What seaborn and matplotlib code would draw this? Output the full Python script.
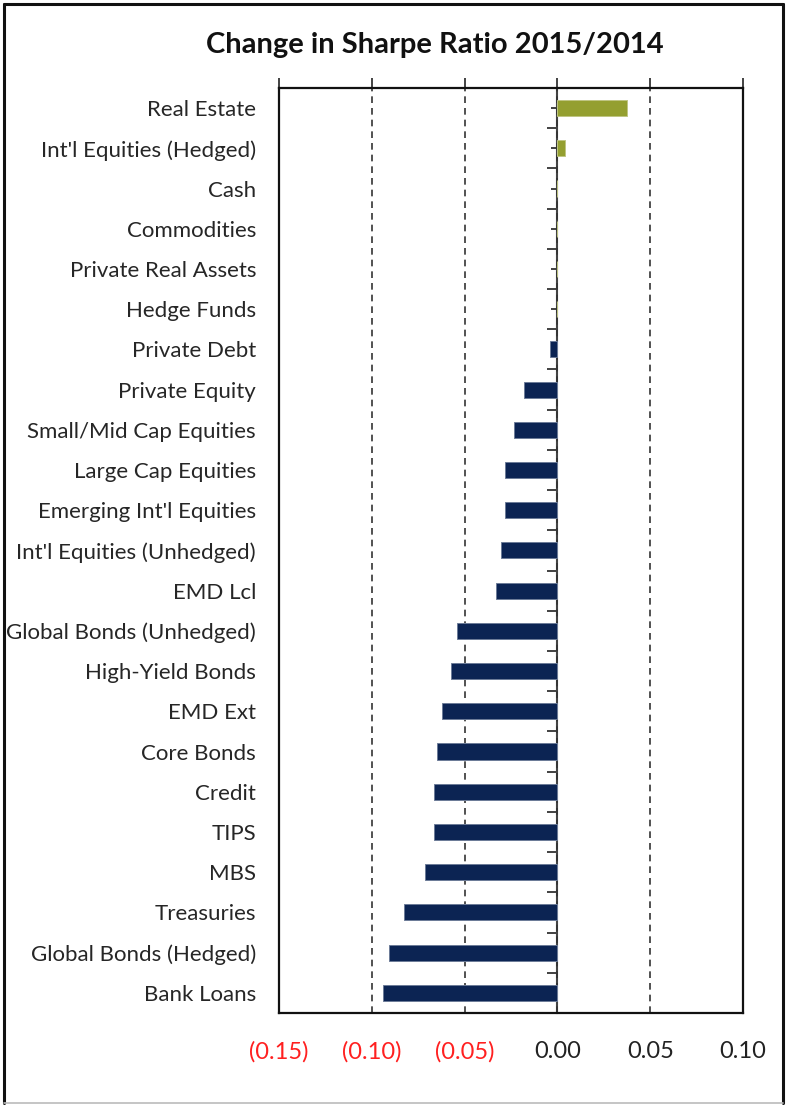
import numpy as np
import pandas as pd
import matplotlib
matplotlib.use("Agg")
import matplotlib.pyplot as plt
from matplotlib.lines import Line2D
import seaborn as sns

categories = [
    "Real Estate", "Int'l Equities (Hedged)", "Cash", "Commodities",
    "Private Real Assets", "Hedge Funds", "Private Debt", "Private Equity",
    "Small/Mid Cap Equities", "Large Cap Equities", "Emerging Int'l Equities",
    "Int'l Equities (Unhedged)", "EMD Lcl", "Global Bonds (Unhedged)",
    "High-Yield Bonds", "EMD Ext", "Core Bonds", "Credit", "TIPS", "MBS",
    "Treasuries", "Global Bonds (Hedged)", "Bank Loans",
]
sharpe_change = [
    0.0375, 0.0043, 0.0, 0.0, 0.0, 0.0, -0.0038, -0.0180,
    -0.0235, -0.0284, -0.0284, -0.0303, -0.0332, -0.0541,
    -0.0573, -0.0621, -0.0648, -0.0663, -0.0663, -0.0711,
    -0.0828, -0.0909, -0.0939,
]
x_ticks = [-0.15, -0.10, -0.05, 0.00, 0.05, 0.10]
x_tick_labels = ["(0.15)", "(0.10)", "(0.05)", "0.00", "0.05", "0.10"]

df = pd.DataFrame({"asset": categories, "change": sharpe_change})
df["sign"] = np.where(df["change"] >= 0, "up", "down")

POS_COLOR = "#A3B11E"
NEG_COLOR = "#00205F"

sns.set_style("white")
plt.rcParams["font.family"] = ["Lato", "DejaVu Sans"]

fig = plt.figure(figsize=(7.88, 11.05), dpi=100)
ax = fig.add_axes([0.354, 0.0833, 0.589, 0.8371])

sns.barplot(
    data=df, y="asset", x="change", hue="sign",
    palette={"up": POS_COLOR, "down": NEG_COLOR},
    order=categories, orient="h", width=0.4, dodge=False,
    legend=False, ax=ax, linewidth=0.7,
)
# thin lighter outline around each bar
for bar in ax.patches:
    fc = bar.get_facecolor()
    bar.set_edgecolor(tuple(min(1, c * 0.6 + 0.4) for c in fc[:3]))

ax.set_xlim(-0.15, 0.10)
ax.set_ylim(len(categories) - 0.5, -0.5)
ax.set_xlabel("")
ax.set_ylabel("")

# x axis: tick marks on top, labels underneath
ax.set_xticks(x_ticks)
ax.set_xticklabels(x_tick_labels, fontsize=17)
for lbl, v in zip(ax.get_xticklabels(), x_ticks):
    lbl.set_color("#FF2020" if v < 0 else "#222222")
ax.tick_params(axis="x", bottom=False, top=True, labelbottom=True,
               labeltop=False, direction="out", length=7, width=1.2,
               color="#222222", pad=13)

# category labels on the left, no tick marks
ax.tick_params(axis="y", left=False, labelsize=16, labelcolor="#262626", pad=13)

# dashed vertical gridlines
ax.xaxis.grid(True, linestyle=(0, (4, 3)), color="#333333", linewidth=1.2)
ax.yaxis.grid(False)
ax.set_axisbelow(True)

for s in ax.spines.values():
    s.set_visible(True)
    s.set_color("#111111")
    s.set_linewidth(1.6)

# zero axis with category tick marks pointing left
zero_frac = (0 - (-0.15)) / (0.10 - (-0.15))
sec = ax.secondary_yaxis(zero_frac)
sec.set_yticks(np.arange(-0.5, len(categories), 1.0))
sec.set_yticks(np.arange(0, len(categories), 1.0), minor=True)
sec.set_yticklabels([])
sec.tick_params(axis="y", which="major", direction="in", length=7, width=1.3, color="#333333")
sec.tick_params(axis="y", which="minor", direction="in", length=4, width=1.3, color="#333333")
for side in ("left", "right"):
    sec.spines[side].set_color("#444444")
    sec.spines[side].set_linewidth(1.5)
    sec.spines[side].set_zorder(5)

fig.text(0.552, 0.959, "Change in Sharpe Ratio 2015/2014", ha="center", va="center",
         fontsize=21, fontweight="bold", color="#111111")

# outer frame
for xs, ys, c, w in [
    ([0.005, 0.005], [0.002, 0.996], "#111111", 2.2),
    ([0.994, 0.994], [0.002, 0.996], "#111111", 2.2),
    ([0.005, 0.994], [0.996, 0.996], "#111111", 2.2),
    ([0.005, 0.994], [0.002, 0.002], "#bbbbbb", 1.2),
]:
    fig.add_artist(Line2D(xs, ys, transform=fig.transFigure, color=c, linewidth=w))

fig.savefig("out.png", dpi=100)
